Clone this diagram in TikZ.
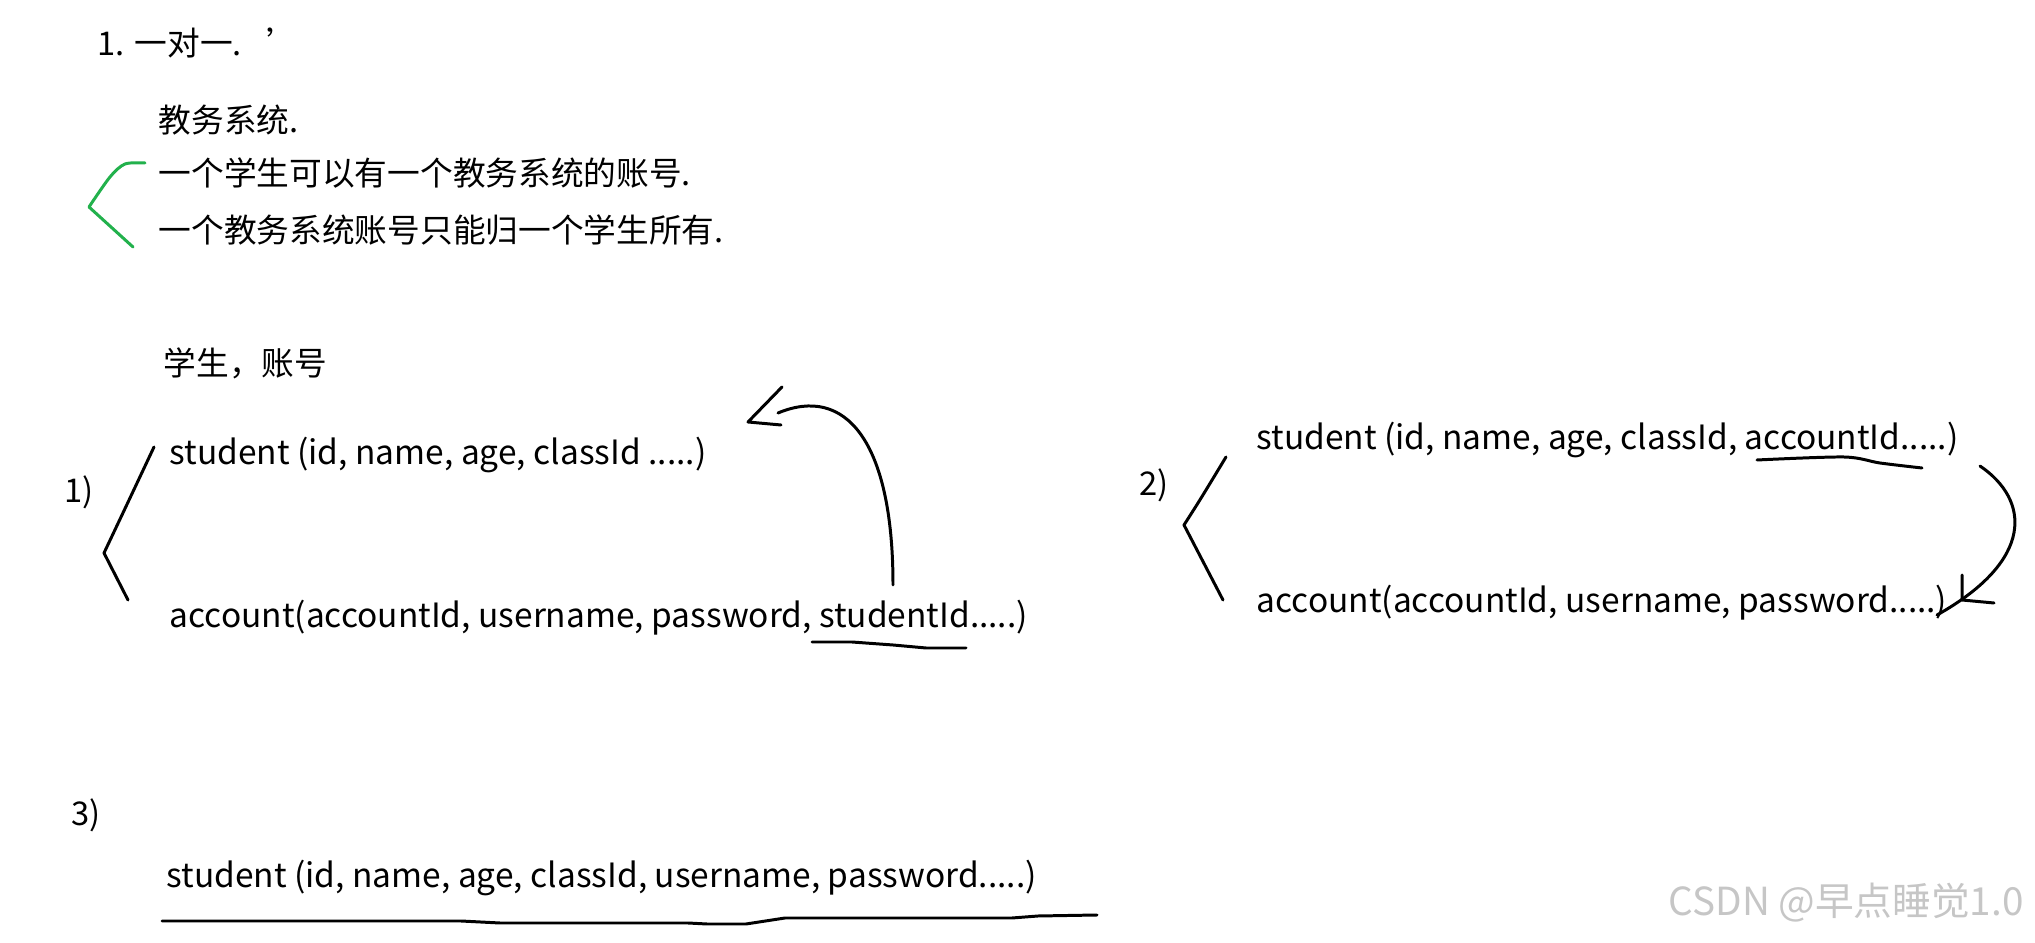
\documentclass[tikz,border=0pt]{standalone}
\usepackage{fontspec}
\setmainfont{Noto Sans CJK SC}
\usepackage{tikz}
\usepackage{color}
\definecolor{penGreen}{RGB}{34,177,76}

\begin{document}
\begin{tikzpicture}[x=0.01cm,y=-0.01cm]
            \tikzstyle{note}=[anchor=west,inner sep=0pt,font=\fontsize{9.3}{11}\selectfont]
            \tikzstyle{row}=[note,font=\fontsize{9.52}{11}\selectfont]
            \tikzstyle{pen}=[line width=0.85pt,line cap=round,line join=round]
            \useasboundingbox (0,0) rectangle (2035,943);

            % heading and the two rules
            \node[note] (title) at (97,43) {1. 一对一.\hspace{7pt}'};
            \node[note] (sys) at (158,120) {教务系统.};
            \node[note] (rule1) at (158,173) {一个学生可以有一个教务系统的账号.};
            \node[note] (rule2) at (158,230) {一个教务系统账号只能归一个学生所有.};
            \node[note] (pair) at (163,363) {学生，账号};

            % option 1
            \node[note] (lbl1) at (64,492) {1)};
            \node[row] (stu1) at (169,455) {student (id, name, age, classId .....)};
            \node[row] (acc1) at (169,618) {account(accountId, username, password, studentId.....)};

            % option 2
            \node[note] (lbl2) at (1139,485) {2)};
            \node[row] (stu2) at (1256,440) {student (id, name, age, classId, accountId.....)};
            \node[row] (acc2) at (1256,603) {account(accountId, username, password.....)};

            % option 3
            \node[note] (lbl3) at (71,815) {3)};
            \node[row] (stu3) at (166,878) {student (id, name, age, classId, username, password.....)};

            \node[note,font=\fontsize{11}{13}\selectfont,text=gray!45] (mark) at (1668,903) {CSDN @早点睡觉1.0};

            % brackets
            \draw[pen,penGreen] plot[smooth] coordinates {(145,163) (125,164) (110,177) (89,207)} -- (133,247);
            \draw[pen] (154,447) .. controls (122,515) .. (104,553) -- (128,600);
            \draw[pen] (1226,457) .. controls (1200,500) .. (1184,525) -- (1223,600);

            % underlines
            \draw[pen] (812,642) -- (852,642) -- (893,645) -- (926,648) -- (966,648);
            \draw[pen] plot[smooth] coordinates {(1757,460) (1844,457) (1880,463) (1922,468)};
            \draw[pen] (162,921) -- (461,921) -- (500,923) -- (688,923) -- (707,924) -- (746,924) -- (785,918) -- (1012,918) -- (1038,916) -- (1097,915);

            % arrows
            \coordinate (from1) at (893,585);
            \coordinate (to1) at (778,413);
            \coordinate (tip1) at (748,422);
            \draw[pen] (from1) .. controls (893,440) and (845,385) .. (to1);
            \draw[pen] (782,387) -- (tip1) -- (781,425);

            \coordinate (from2) at (1980,466);
            \coordinate (to2) at (1937,615);
            \draw[pen] (from2) .. controls (2030,500) and (2035,560) .. (to2);
            \draw[pen] (1962,575) -- (1962,600) -- (1994,603);
        \end{tikzpicture}
\end{document}
